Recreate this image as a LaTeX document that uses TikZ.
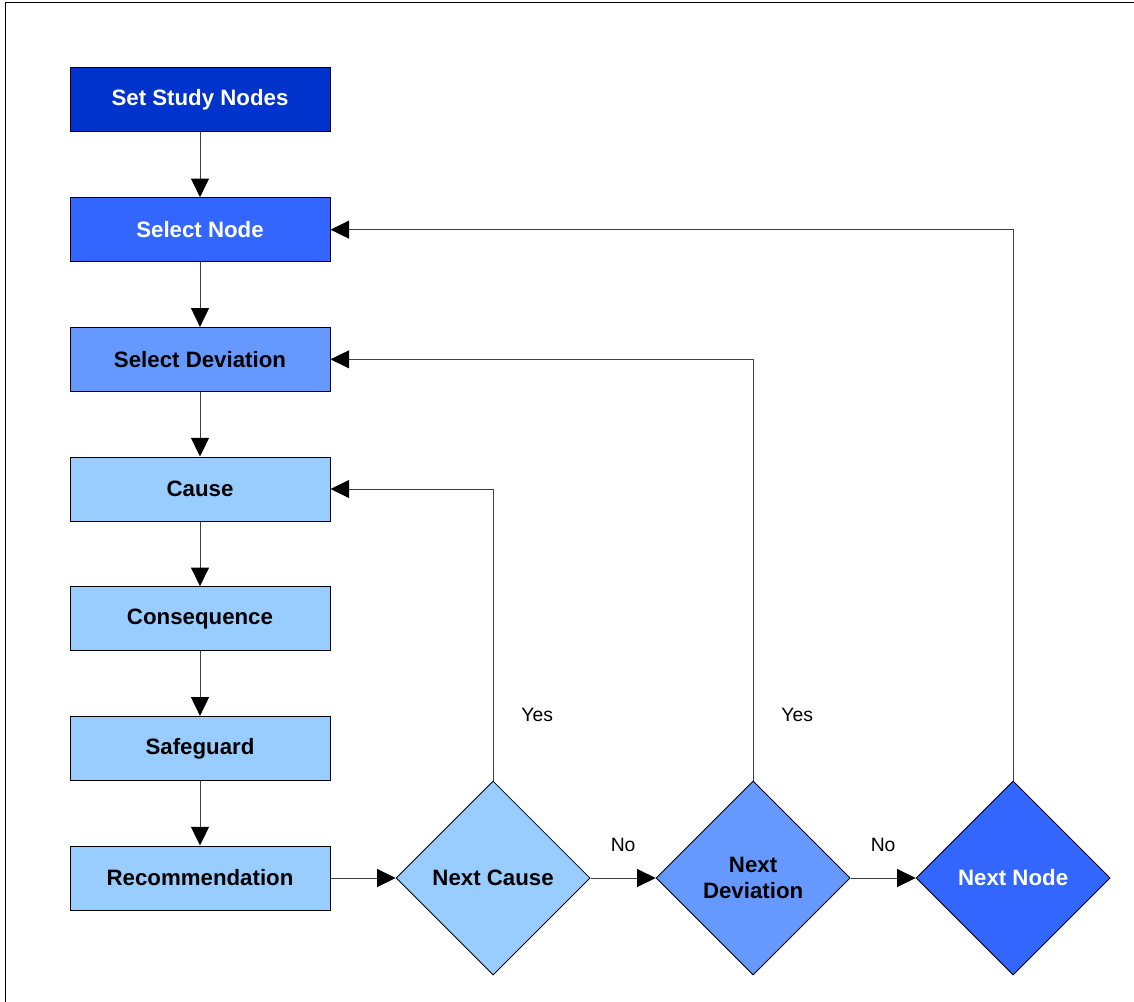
\documentclass[tikz,border=0pt]{standalone}
\usepackage{fontspec}
\setmainfont{Liberation Sans}
\usetikzlibrary{positioning,arrows.meta,shapes.geometric}
\definecolor{studyBlue}{HTML}{0033CC}
\definecolor{nodeBlue}{HTML}{3366FF}
\definecolor{devBlue}{HTML}{6699FF}
\definecolor{stepBlue}{HTML}{99CCFF}
\definecolor{wireGray}{HTML}{404040}

\begin{document}
\begin{tikzpicture}[>={Triangle[length=14pt,width=13.5pt,black]}, node distance=48.5pt and 48.9pt,
          stepbox/.style={draw, line width=0.75pt, fill=stepBlue, minimum width=195pt, minimum height=48pt, font=\fontsize{16.7}{20}\selectfont\bfseries},
          check/.style={draw, line width=0.6pt, diamond, aspect=1, inner sep=0pt, minimum width=145.5pt, minimum height=145.5pt, fill=stepBlue, align=center, font=\fontsize{16.7}{20}\selectfont\bfseries},
          flow/.style={->, wireGray, line width=0.75pt},
          lbl/.style={inner sep=0pt, text=black, font=\fontsize{14.5}{17}\selectfont}]
        \useasboundingbox (0,0) rectangle (850.5pt,-751.5pt);
        \coordinate (frameTR) at (850.5pt,-2.25pt);
        \coordinate (frameTL) at (3.75pt,-2.25pt);
        \coordinate (frameBL) at (3.75pt,-751.5pt);
        \draw[line width=0.75pt] (frameTR) -- (frameTL) -- (frameBL);
        % left column of steps
        \node[stepbox, fill=studyBlue, text=white] (study) at (150pt,-75pt) {Set Study Nodes};
        \node[stepbox, fill=nodeBlue, text=white, below=of study] (selnode) {Select Node};
        \node[stepbox, fill=devBlue, below=of selnode] (seldev) {Select Deviation};
        \node[stepbox, below=of seldev] (cause) {Cause};
        \node[stepbox, below=of cause] (conseq) {Consequence};
        \node[stepbox, below=of conseq] (safeg) {Safeguard};
        \node[stepbox, below=of safeg] (recom) {Recommendation};
        % decisions
        \node[check, right=of recom] (ncause) {Next Cause};
        \node[check, fill=devBlue, right=of ncause] (ndev) {Next\\Deviation};
        \node[check, fill=nodeBlue, text=white, right=of ndev] (nnode) {Next Node};
        \foreach \a/\b in {study/selnode, selnode/seldev, seldev/cause, cause/conseq, conseq/safeg, safeg/recom} {
          \draw[flow] (\a) -- (\b);
        }
        \draw[flow] (recom) -- (ncause);
        \draw[flow] (ncause) -- (ndev) node[lbl, midway, above=19.5pt] {No};
        \draw[flow] (ndev) -- (nnode) node[lbl, midway, above=19.5pt] {No};
        % loops back
        \draw[flow] (ncause.north) |- (cause.east);
        \draw[flow] (ndev.north) |- (seldev.east);
        \draw[flow] (nnode.north) |- (selnode.east);
        \node[lbl, right=21pt of ncause.north, yshift=49.5pt] (yes1) {Yes};
        \node[lbl, right=21pt of ndev.north, yshift=49.5pt] (yes2) {Yes};
      \end{tikzpicture}
\end{document}
